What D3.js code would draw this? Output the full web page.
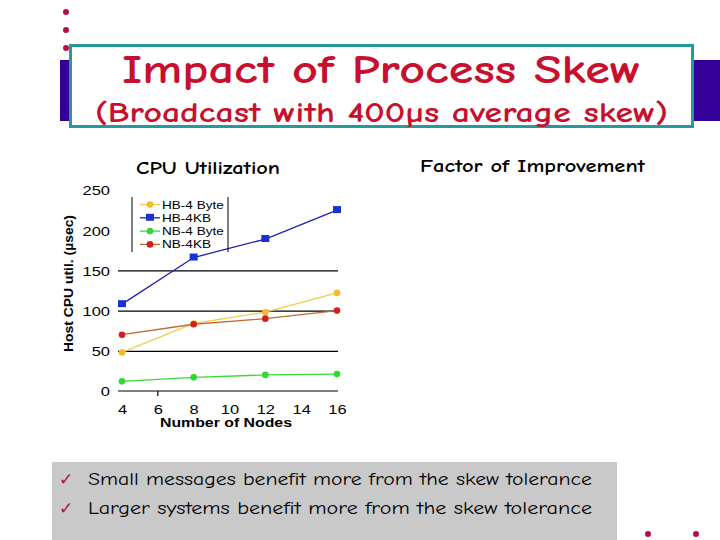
<!DOCTYPE html>
<html><head><meta charset="utf-8">
<script src="https://cdn.jsdelivr.net/npm/d3@7"></script>
<style>
html,body{margin:0;padding:0;background:#fff;}
svg{display:block;}
</style></head>
<body>
<svg id="c" width="720" height="540"></svg>
<script>
const nodes = [4, 8, 12, 16];
const hb4Byte = [48, 84, 98, 122];
const hb4KB = [108, 166, 189, 225];
const nb4Byte = [12, 17, 20, 21];
const nb4KB = [70, 83, 90, 100];
const seriesNames = ["HB-4 Byte", "HB-4KB", "NB-4 Byte", "NB-4KB"];
const yTicks = [0, 50, 100, 150, 200, 250];
const gridTicks = [50, 100, 150];
const xTicks = [4, 6, 8, 10, 12, 14, 16];
const bullets = ["Small messages benefit more from the skew tolerance",
                 "Larger systems benefit more from the skew tolerance"];

const svg = d3.select("#c");
const comic = "'Comic Sans MS','Comic Neue','DejaVu Sans',sans-serif";
const crimson = "#c8102e";
const af = "Arial, 'Liberation Sans', sans-serif";

function stretch(sel, k) {
  sel.each(function() {
    const w = this.getComputedTextLength();
    d3.select(this).attr("textLength", w * k).attr("lengthAdjust", "spacingAndGlyphs");
  });
}

// decorative dots
[12, 30, 48].forEach(cy => svg.append("circle").attr("cx", 66).attr("cy", cy).attr("r", 3).attr("fill", "#b0123a"));
[648, 696].forEach(cx => svg.append("circle").attr("cx", cx).attr("cy", 534).attr("r", 3).attr("fill", "#b0123a"));

// title band
svg.append("rect").attr("x", 60).attr("y", 60).attr("width", 660).attr("height", 61).attr("fill", "#330099");
svg.append("rect").attr("x", 70.5).attr("y", 45.5).attr("width", 622).attr("height", 81)
  .attr("fill", "#fff").attr("stroke", "#259a9a").attr("stroke-width", 3);
svg.append("text").attr("x", 122).attr("y", 83).attr("font-family", comic).attr("font-size", 40)
  .attr("font-weight", "bold")
  .attr("fill", crimson).attr("textLength", 519).attr("lengthAdjust", "spacingAndGlyphs")
  .text("Impact of Process Skew");
svg.append("text").attr("x", 95).attr("y", 122).attr("font-family", comic).attr("font-size", 28)
  .attr("font-weight", "bold")
  .attr("fill", crimson).attr("textLength", 573).attr("lengthAdjust", "spacingAndGlyphs")
  .text("(Broadcast with 400µs average skew)");

// section headers
svg.append("text").attr("x", 136).attr("y", 174).attr("font-family", comic).attr("font-size", 17)
  .attr("font-weight", "bold").attr("fill", "#000").attr("textLength", 144).attr("lengthAdjust", "spacingAndGlyphs")
  .text("CPU Utilization");
svg.append("text").attr("x", 420).attr("y", 172).attr("font-family", comic).attr("font-size", 17)
  .attr("font-weight", "bold").attr("fill", "#000").attr("textLength", 225).attr("lengthAdjust", "spacingAndGlyphs")
  .text("Factor of Improvement");

// chart
const x = d3.scaleLinear().domain([4, 16]).range([122, 337]);
const y = d3.scaleLinear().domain([0, 250]).range([391, 190]);

const grid = svg.append("g").attr("transform", "translate(338,0)")
  .call(d3.axisLeft(y).tickValues(gridTicks).tickSize(220).tickFormat(""));
grid.select(".domain").remove();
grid.selectAll("line").attr("stroke", "#000").attr("stroke-width", 1.2);

const yAx = svg.append("g").attr("transform", "translate(110,0)")
  .call(d3.axisLeft(y).tickValues(yTicks).tickSize(0).tickPadding(0));
yAx.select(".domain").remove();
yAx.selectAll("text").attr("font-family", af).attr("font-size", 13.5).attr("fill", "#000").attr("dy", "0.36em");
stretch(yAx.selectAll("text"), 1.22);

const xAx = svg.append("g").attr("transform", "translate(0,391)")
  .call(d3.axisBottom(x).tickValues(xTicks).tickSize(0).tickPadding(13));
xAx.select(".domain").remove();
xAx.selectAll("text").attr("font-family", af).attr("font-size", 13.5).attr("fill", "#000");
stretch(xAx.selectAll("text"), 1.22);
svg.append("line").attr("x1", 118).attr("x2", 338).attr("y1", y(0)).attr("y2", y(0))
  .attr("stroke", "#000").attr("stroke-width", 1.2);
svg.append("line").attr("x1", x(6)).attr("x2", x(6)).attr("y1", y(0)).attr("y2", y(0) + 5)
  .attr("stroke", "#000").attr("stroke-width", 1.2);

svg.append("text").attr("x", 160).attr("y", 427)
  .attr("font-family", af).attr("font-size", 12).attr("font-weight", "bold")
  .attr("textLength", 132).attr("lengthAdjust", "spacingAndGlyphs").text("Number of Nodes");
svg.append("text").attr("transform", "translate(73,352) rotate(-90)")
  .attr("font-family", af).attr("font-size", 13).attr("font-weight", "bold")
  .attr("textLength", 137).attr("lengthAdjust", "spacingAndGlyphs").text("Host CPU util. (µsec)");

const series = [
  {name: seriesNames[0], vals: hb4Byte, line: "#f0cc50", mark: "#f2bd2c", shape: "circle"},
  {name: seriesNames[1], vals: hb4KB, line: "#2020a8", mark: "#1a30d0", shape: "square"},
  {name: seriesNames[2], vals: nb4Byte, line: "#38d838", mark: "#30d830", shape: "circle"},
  {name: seriesNames[3], vals: nb4KB, line: "#c06a30", mark: "#d02020", shape: "circle"}
];
const lineGen = d3.line().x((d, i) => x(nodes[i])).y(d => y(d));
function marker(g, s, cx, cy) {
  if (s.shape === "square") {
    g.append("rect").attr("x", cx - 4).attr("y", cy - 4).attr("width", 8).attr("height", 7).attr("fill", s.mark);
  } else {
    g.append("circle").attr("cx", cx).attr("cy", cy).attr("r", 3.3).attr("fill", s.mark);
  }
}
series.forEach(s => {
  const g = svg.append("g");
  g.append("path").attr("d", lineGen(s.vals)).attr("fill", "none").attr("stroke", s.line).attr("stroke-width", 1.3);
  s.vals.forEach((v, i) => marker(g, s, x(nodes[i]), y(v)));
});

// legend
const lg = svg.append("g");
lg.append("line").attr("x1", 132).attr("x2", 132).attr("y1", 197).attr("y2", 252).attr("stroke", "#000");
lg.append("line").attr("x1", 228).attr("x2", 228).attr("y1", 197).attr("y2", 252).attr("stroke", "#000");
series.forEach((s, i) => {
  const ly = 204.5 + i * 13.3;
  lg.append("line").attr("x1", 140).attr("x2", 160).attr("y1", ly).attr("y2", ly).attr("stroke", s.line).attr("stroke-width", 1.3);
  marker(lg, s, 150, ly);
  const t = lg.append("text").attr("x", 162).attr("y", ly + 4).attr("font-family", af).attr("font-size", 11.5).text(s.name);
  stretch(t, 1.18);
});

// bottom bullet box
svg.append("rect").attr("x", 52).attr("y", 462).attr("width", 565).attr("height", 78).attr("fill", "#c9c9c9");
bullets.forEach((t, i) => {
  const by = 485 + i * 29;
  svg.append("text").attr("x", 59).attr("y", by).attr("font-family", "'DejaVu Sans',sans-serif")
    .attr("font-size", 17).attr("fill", "#b0123a").text("✓");
  svg.append("text").attr("x", 88).attr("y", by).attr("font-family", comic).attr("font-size", 19)
    .attr("fill", "#000").attr("textLength", 504).attr("lengthAdjust", "spacingAndGlyphs").text(t);
});
</script>
</body></html>
